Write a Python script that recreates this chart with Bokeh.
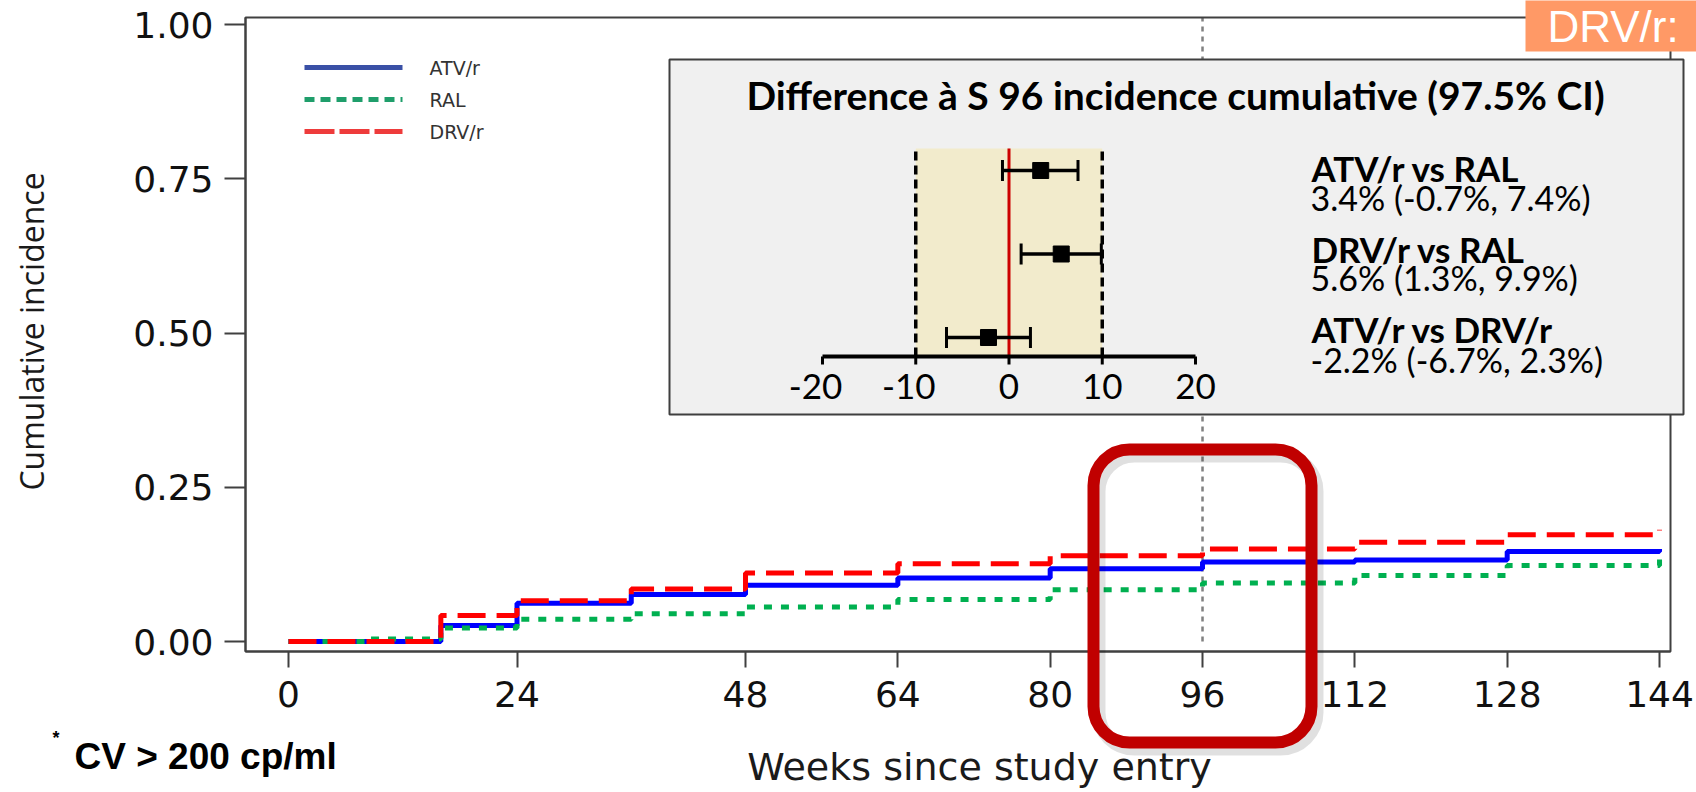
import math
from bokeh.plotting import figure
from bokeh.models import Range1d, FixedTicker, BoxAnnotation, Label
from bokeh.core.properties import value
from bokeh.embed import file_html
from bokeh.resources import INLINE

# ---------------- data ----------------
weeks = [0, 8, 16, 24, 36, 48, 64, 80, 96, 112, 128, 144]
atv_r = [0.0, 0.0, 0.026, 0.062, 0.076, 0.091, 0.103, 0.118, 0.129, 0.132, 0.146, 0.150]
ral = [0.0, 0.004, 0.022, 0.036, 0.045, 0.056, 0.068, 0.084, 0.095, 0.107, 0.123, 0.134]
drv_r = [0.0, 0.0, 0.042, 0.066, 0.085, 0.111, 0.126, 0.139, 0.150, 0.161, 0.173, 0.181]
series_names = ["ATV/r", "RAL", "DRV/r"]
x_ticks = [0, 24, 48, 64, 80, 96, 112, 128, 144]
y_ticks = [0.0, 0.25, 0.5, 0.75, 1.0]
y_tick_labels = ["0.00", "0.25", "0.50", "0.75", "1.00"]
landmark_week = 96

comparisons = ["ATV/r vs RAL", "DRV/r vs RAL", "ATV/r vs DRV/r"]
diff_est = [3.4, 5.6, -2.2]
diff_lo = [-0.7, 1.3, -6.7]
diff_hi = [7.4, 9.9, 2.3]
diff_text = ["3.4% (-0.7%, 7.4%)", "5.6% (1.3%, 9.9%)", "-2.2% (-6.7%, 2.3%)"]
forest_rows = [3, 2, 1]
forest_ticks = [-20, -10, 0, 10, 20]
margin_lo, margin_hi = -10, 10

inset_title = "Difference à S 96 incidence cumulative (97.5% CI)"
x_title = "Weeks since study entry"
y_title = "Cumulative incidence"
footnote = "CV > 200 cp/ml"
corner_tag = "DRV/r:"

# ---------------- layout (pixels of the 1696x792 canvas) ----------------
W, H = 1696, 792
BL, BR, BT, BB = 245, 1670, 17, 651          # plot box edges
X0PX, PX_PER_WEEK = 288.0, 9.521              # week 0 position / scale
Y0PX, PX_PER_UNIT = 641.0, 617.0              # incidence 0 position / scale
FX0PX, PX_PER_PCT = 1008.5, 9.325             # forest: 0 % position / scale
FY1PX, PX_PER_ROW = 337.0, 83.5               # forest: row 1 position / spacing


def X(px):
    return (px - X0PX) / PX_PER_WEEK


def Y(py):
    return (Y0PX - py) / PX_PER_UNIT


def FY(py):
    return 1 + (FY1PX - py) / PX_PER_ROW


p = figure(width=W, height=H,
           x_range=Range1d(X(0), X(W)), y_range=Range1d(Y(H), Y(0)),
           min_border=0, output_backend="svg", toolbar_location=None)
p.extra_x_ranges = {"fx": Range1d(-FX0PX / PX_PER_PCT, (W - FX0PX) / PX_PER_PCT)}
p.extra_y_ranges = {"fy": Range1d(FY(H), FY(0))}

p.outline_line_color = None
p.xgrid.grid_line_color = None
p.ygrid.grid_line_color = None
p.background_fill_color = "white"
p.border_fill_color = "white"

xa = p.xaxis[0]
xa.ticker = FixedTicker(ticks=x_ticks)
xa.fixed_location = Y(BB)
xa.bounds = (X(BL), X(BR))
ya = p.yaxis[0]
ya.ticker = FixedTicker(ticks=y_ticks)
ya.major_label_overrides = {t: l for t, l in zip(y_ticks, y_tick_labels)}
ya.fixed_location = X(BL)
ya.bounds = (Y(BB), Y(BT))
for ax, tout in ((xa, 16), (ya, 21)):
    ax.major_tick_out = tout
    ax.major_tick_in = 0
    ax.minor_tick_line_color = None
    ax.axis_line_color = "#404040"
    ax.axis_line_width = 2
    ax.major_tick_line_color = "#404040"
    ax.major_tick_line_width = 2
    ax.major_label_text_font = "DejaVu Sans"
    ax.major_label_text_font_size = "36px"
    ax.major_label_text_color = "#111111"
xa.major_label_standoff = 13
ya.major_label_standoff = 11

# plot box
p.add_layout(BoxAnnotation(left=X(BL), right=X(BR), top=Y(BT), bottom=Y(BB),
                           fill_alpha=0, line_color="#404040", line_alpha=1,
                           line_width=2, level="image"))

# landmark line at week 96 (behind inset)
p.segment(x0=[landmark_week], y0=[0.0], x1=[landmark_week], y1=[Y(BT)],
          line_color="#808080", line_width=2.5, line_dash="5 5", level="image")

# inset box
p.add_layout(BoxAnnotation(left=X(669), right=X(1683), top=Y(59), bottom=Y(414),
                           fill_color="#F0F0F0", fill_alpha=1.0, line_alpha=1,
                           line_color="#3F3F3F", line_width=2, level="underlay"))

# curves
p.step(weeks, atv_r, mode="after", line_color="#0000FF", line_width=5)
p.step(weeks, ral, mode="after", line_color="#00B050", line_width=5, line_dash="8 9")
p.step(weeks, drv_r, mode="after", line_color="#FF0000", line_width=5, line_dash="28 11")

# legend (manual)
leg_colors = ["#3A50A6", "#1F9E6B", "#EE3B3B"]
leg_dash = ["solid", "10 6", "30 5"]
leg_rows_px = [67, 99, 131]
for name, c, d, ry in zip(series_names, leg_colors, leg_dash, leg_rows_px):
    p.segment(x0=[X(304)], y0=[Y(ry)], x1=[X(402)], y1=[Y(ry)],
              line_color=c, line_width=5, line_dash=d)
p.text(x=[X(429)] * 3, y=[Y(r) for r in leg_rows_px], text=series_names,
       text_font=value("DejaVu Sans"), text_font_size="19px", text_color="#333333",
       text_baseline="middle", text_align="left")

# ---------------- forest inset ----------------
ax_y = FY(356)
band_top = FY(148)
p.quad(left=[margin_lo], right=[margin_hi], bottom=[ax_y], top=[band_top],
       x_range_name="fx", y_range_name="fy", fill_color="#F2EBCC", line_color=None)
p.segment(x0=[margin_lo, margin_hi], y0=[ax_y, ax_y], x1=[margin_lo, margin_hi],
          y1=[band_top, band_top], x_range_name="fx", y_range_name="fy",
          line_color="black", line_width=3.5, line_dash="9 5")
p.segment(x0=[0], y0=[ax_y], x1=[0], y1=[band_top], x_range_name="fx", y_range_name="fy",
          line_color="#CC0000", line_width=3)
p.segment(x0=[forest_ticks[0]], y0=[ax_y], x1=[forest_ticks[-1]], y1=[ax_y],
          x_range_name="fx", y_range_name="fy", line_color="black", line_width=4)
p.segment(x0=forest_ticks, y0=[ax_y] * len(forest_ticks), x1=forest_ticks,
          y1=[FY(364)] * len(forest_ticks), x_range_name="fx", y_range_name="fy",
          line_color="black", line_width=3)
p.text(x=forest_ticks, y=[FY(386)] * len(forest_ticks), text=[str(t) for t in forest_ticks],
       x_offset=[-7 if t < 0 else 0 for t in forest_ticks],
       x_range_name="fx", y_range_name="fy", text_font=value("Lato"), text_font_size="35px",
       text_color="black", text_align="center", text_baseline="middle")

cap_h = 0.126
p.segment(x0=diff_lo, y0=forest_rows, x1=diff_hi, y1=forest_rows,
          x_range_name="fx", y_range_name="fy", line_color="black", line_width=3.5)
p.segment(x0=diff_lo + diff_hi, y0=[r - cap_h for r in forest_rows] * 2,
          x1=diff_lo + diff_hi, y1=[r + cap_h for r in forest_rows] * 2,
          x_range_name="fx", y_range_name="fy", line_color="black", line_width=3)
p.scatter(x=diff_est, y=forest_rows, marker="square", size=16,
          x_range_name="fx", y_range_name="fy", fill_color="black", line_color="black")

p.text(x=[X(1175)], y=[Y(94)], text=[inset_title], text_font=value("Lato"),
       text_font_style="bold", text_font_size="39px", text_color="black",
       text_align="center", text_baseline="middle")
p.text(x=[X(1311)] * 3, y=[Y(v) for v in (167, 248, 328)], text=comparisons,
       text_font=value("Lato"), text_font_style="bold", text_font_size="35px",
       text_color="black", text_align="left", text_baseline="middle")
p.text(x=[X(1310)] * 3, y=[Y(v) for v in (197, 277, 359)], text=diff_text,
       text_font=value("Lato"), text_font_size="34px",
       text_color="black", text_align="left", text_baseline="middle")

# ---------------- texts ----------------
p.add_layout(Label(x=X(979), y=Y(766), text=x_title, text_font="DejaVu Sans",
                   text_font_size="38px", text_color="#1a1a1a", text_align="center",
                   text_baseline="middle"))
p.add_layout(Label(x=X(31), y=Y(331), text=y_title, text_font="Open Sans",
                   text_font_size="32px", text_color="#1a1a1a", text_align="center",
                   text_baseline="middle", angle=math.pi / 2))
p.add_layout(Label(x=X(52), y=Y(737), text="*", text_font="Liberation Sans",
                   text_font_size="18px", text_font_style="bold", text_color="black",
                   text_baseline="middle"))
p.add_layout(Label(x=X(74), y=Y(756), text=footnote, text_font="Liberation Sans",
                   text_font_size="37px", text_font_style="bold", text_color="black",
                   text_baseline="middle"))

# highlight box around week 96
p.add_layout(BoxAnnotation(left=X(1098), right=X(1316), top=Y(455), bottom=Y(748),
                           fill_alpha=0, line_color="black", line_alpha=0.12,
                           line_width=14, border_radius=36, level="overlay"))
p.add_layout(BoxAnnotation(left=X(1093), right=X(1311), top=Y(449), bottom=Y(742),
                           fill_alpha=0, line_color="#C00000", line_alpha=1, line_width=12,
                           border_radius=36, level="overlay"))

# corner tag
p.add_layout(BoxAnnotation(left=X(1525), right=X(1705), top=Y(-10), bottom=Y(51),
                           fill_color="#FF9966", fill_alpha=1.0, line_color=None,
                           level="overlay"))
p.add_layout(Label(x=X(1547), y=Y(26), text=corner_tag, text_font="Liberation Sans",
                   text_font_size="44px", text_color="white", text_baseline="middle",
                   level="overlay"))

open("out.html", "w").write(file_html(p, INLINE))
